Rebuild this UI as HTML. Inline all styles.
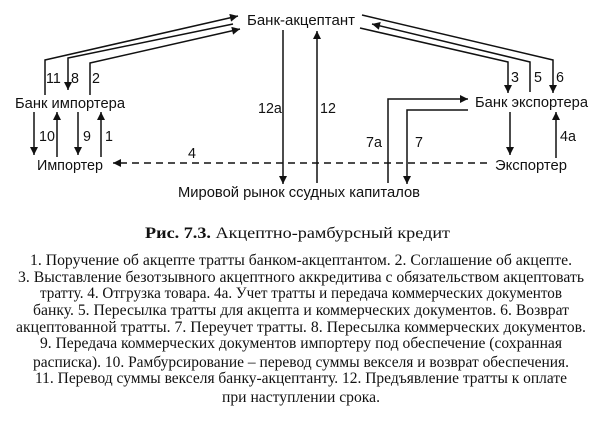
<!DOCTYPE html>
<html><head><meta charset="utf-8"><style>
html,body{margin:0;padding:0;background:#fff;}
svg{display:block}
.s{font-family:"Liberation Sans",sans-serif;font-size:14.3px;fill:#111}
.t{font-family:"Liberation Serif",serif;font-size:15.5px;fill:#111}
</style></head><body>
<svg width="602" height="425" viewBox="0 0 602 425" xmlns="http://www.w3.org/2000/svg">
<defs><marker id="a" viewBox="0 0 10 10" refX="10" refY="5" markerWidth="9" markerHeight="8" markerUnits="userSpaceOnUse" orient="auto"><path d="M0,0L10,5L0,10z" fill="#111"/></marker></defs>
<g stroke="#111" stroke-width="1.5" fill="none">
<polyline points="45,95 45,60 238,16" marker-end="url(#a)"/>
<polyline points="233,24 68,58 68,90" marker-end="url(#a)"/>
<polyline points="90,95 90,63 240,29" marker-end="url(#a)"/>
<line x1="34" y1="112" x2="34" y2="155" marker-end="url(#a)"/>
<line x1="57" y1="157" x2="57" y2="112" marker-end="url(#a)"/>
<line x1="78" y1="112" x2="78" y2="155" marker-end="url(#a)"/>
<line x1="101" y1="157" x2="101" y2="112" marker-end="url(#a)"/>
<line x1="487" y1="163" x2="113" y2="163" stroke-dasharray="7,5" marker-end="url(#a)"/>
<line x1="283" y1="30" x2="283" y2="184" marker-end="url(#a)"/>
<line x1="317" y1="183" x2="317" y2="31" marker-end="url(#a)"/>
<polyline points="360,28 508,62 508,93" marker-end="url(#a)"/>
<polyline points="530,92 530,62 372,24" marker-end="url(#a)"/>
<polyline points="362,15 553,60 553,93" marker-end="url(#a)"/>
<polyline points="388,183 388,99 468,99" marker-end="url(#a)"/>
<polyline points="468,110 407,110 407,184" marker-end="url(#a)"/>
<line x1="510" y1="112" x2="510" y2="155" marker-end="url(#a)"/>
<line x1="556" y1="158" x2="556" y2="112" marker-end="url(#a)"/>
</g>
<g class="s">
<text x="247" y="25" textLength="108" lengthAdjust="spacingAndGlyphs">Банк-акцептант</text>
<text x="15" y="108" textLength="110" lengthAdjust="spacingAndGlyphs">Банк импортера</text>
<text x="37" y="170" textLength="66" lengthAdjust="spacingAndGlyphs">Импортер</text>
<text x="475" y="107" textLength="113" lengthAdjust="spacingAndGlyphs">Банк экспортера</text>
<text x="495" y="170" textLength="72" lengthAdjust="spacingAndGlyphs">Экспортер</text>
<text x="178" y="197" textLength="242" lengthAdjust="spacingAndGlyphs">Мировой рынок ссудных капиталов</text>
<text x="46" y="83">11</text><text x="71" y="83">8</text><text x="92" y="83">2</text>
<text x="39" y="141">10</text><text x="83" y="141">9</text><text x="105" y="141">1</text>
<text x="188" y="158">4</text>
<text x="258" y="113">12а</text><text x="320" y="113">12</text>
<text x="511" y="82">3</text><text x="534" y="82">5</text><text x="556" y="82">6</text>
<text x="366" y="147">7а</text><text x="415" y="147">7</text>
<text x="560" y="141">4а</text>
</g>
<text class="t" x="145" y="238" textLength="305" lengthAdjust="spacingAndGlyphs"><tspan font-weight="bold">Рис. 7.3.</tspan> Акцептно-рамбурсный кредит</text>
<g class="t" text-anchor="middle">
<text x="301" y="265" textLength="542" lengthAdjust="spacingAndGlyphs">1. Поручение об акцепте тратты банком-акцептантом. 2. Соглашение об акцепте.</text>
<text x="301" y="282" textLength="566" lengthAdjust="spacingAndGlyphs">3. Выставление безотзывного акцептного аккредитива с обязательством акцептовать</text>
<text x="301" y="298" textLength="522" lengthAdjust="spacingAndGlyphs">тратту. 4. Отгрузка товара. 4а. Учет тратты  и передача коммерческих документов</text>
<text x="301" y="315" textLength="536" lengthAdjust="spacingAndGlyphs">банку. 5. Пересылка тратты для акцепта и коммерческих документов. 6. Возврат</text>
<text x="301" y="332" textLength="570" lengthAdjust="spacingAndGlyphs">акцептованной тратты. 7. Переучет тратты. 8. Пересылка  коммерческих документов.</text>
<text x="301" y="348" textLength="522" lengthAdjust="spacingAndGlyphs">9. Передача коммерческих документов импортеру под обеспечение (сохранная</text>
<text x="301" y="367" textLength="536" lengthAdjust="spacingAndGlyphs">расписка). 10. Рамбурсирование – перевод суммы векселя и возврат обеспечения.</text>
<text x="301" y="383" textLength="532" lengthAdjust="spacingAndGlyphs">11. Перевод суммы векселя банку-акцептанту. 12. Предъявление тратты к оплате</text>
<text x="301" y="402" textLength="158" lengthAdjust="spacingAndGlyphs">при наступлении срока.</text>
</g>
</svg>
</body></html>
